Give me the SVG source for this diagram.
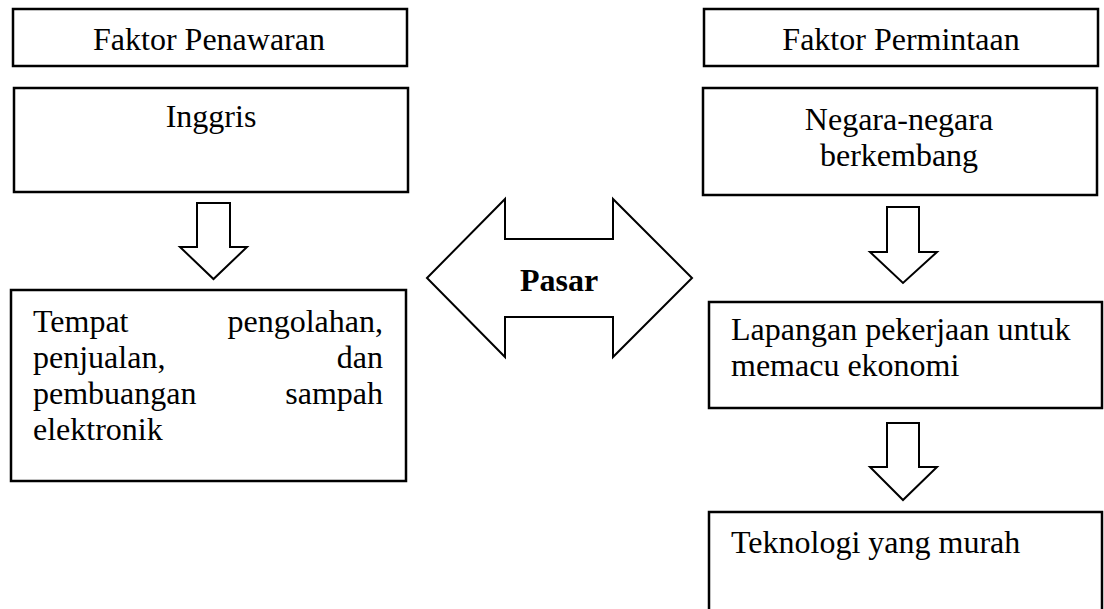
<svg xmlns="http://www.w3.org/2000/svg" width="1104" height="609" viewBox="0 0 1104 609">
<style>
.box{fill:#fff;stroke:#000;stroke-width:2.5}
.arr{fill:#fff;stroke:#000;stroke-width:2;stroke-linejoin:miter}
.t{font-family:"Liberation Serif","Times New Roman",serif;font-size:32px;fill:#000}
.c{text-anchor:middle}
.e{text-anchor:end}
.b{font-weight:bold}
</style>
<rect width="1104" height="609" fill="#fff"/>
<g id="connectors">
<polygon class="arr" points="197,203 230,203 230,247 247,247 213.5,279 180,247 197,247"/>
<polygon class="arr" points="887,207 919,207 919,252 937,252 903,283 870,252 887,252"/>
<polygon class="arr" points="887,423 919,423 919,467 937,467 903,500 870,467 887,467"/>
</g>
<g id="pasar">
<polygon class="arr" points="427,278 505,199 505,239 613,239 613,199 692,278 613,357 613,317 505,317 505,357"/>
<text class="t c b" x="559" y="291">Pasar</text>
</g>
<g id="faktor-penawaran">
<rect class="box" x="13" y="9" width="394" height="57"/>
<text class="t c" x="209" y="50">Faktor Penawaran</text>
</g>
<g id="inggris">
<rect class="box" x="14" y="88" width="394" height="104"/>
<text class="t c" x="211" y="127">Inggris</text>
</g>
<g id="tempat">
<rect class="box" x="11" y="290" width="395" height="191"/>
<text class="t" x="33" y="332">Tempat</text>
<text class="t e" x="383" y="332">pengolahan,</text>
<text class="t" x="33" y="368">penjualan,</text>
<text class="t e" x="383" y="368">dan</text>
<text class="t" x="33" y="404">pembuangan</text>
<text class="t e" x="383" y="404">sampah</text>
<text class="t" x="33" y="440">elektronik</text>
</g>
<g id="faktor-permintaan">
<rect class="box" x="704" y="9" width="394" height="57"/>
<text class="t c" x="901" y="50">Faktor Permintaan</text>
</g>
<g id="negara">
<rect class="box" x="703" y="88" width="394" height="107"/>
<text class="t c" x="899" y="130">Negara-negara</text>
<text class="t c" x="899" y="166">berkembang</text>
</g>
<g id="lapangan">
<rect class="box" x="709" y="302" width="393" height="106"/>
<text class="t" x="731" y="340">Lapangan pekerjaan untuk</text>
<text class="t" x="731" y="376">memacu ekonomi</text>
</g>
<g id="teknologi">
<rect class="box" x="709" y="512" width="393" height="110"/>
<text class="t" x="731" y="553">Teknologi yang murah</text>
</g>
</svg>
